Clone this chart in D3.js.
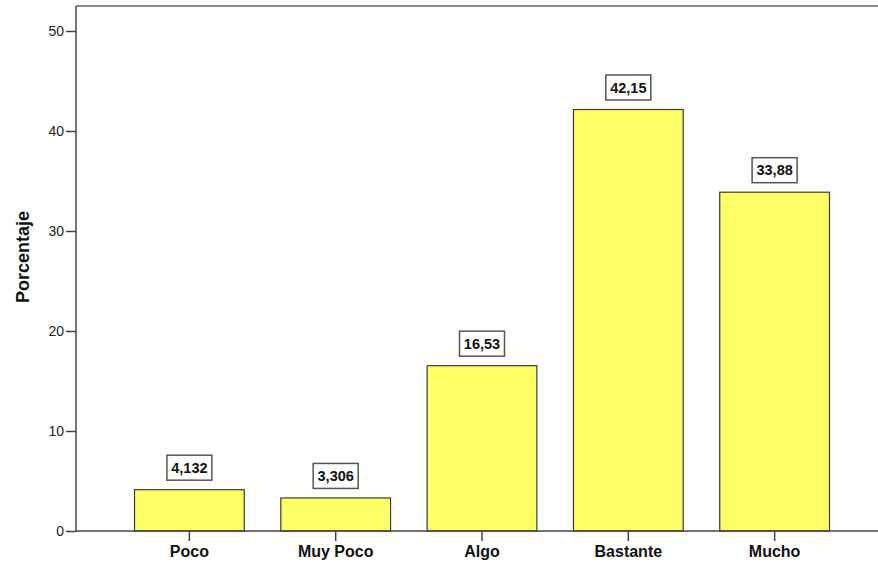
<!DOCTYPE html>
<html>
<head>
<meta charset="utf-8">
<script src="https://cdn.jsdelivr.net/npm/d3@7"></script>
<style>
  html, body { margin: 0; padding: 0; background: #fff; }
  svg { display: block; font-family: Arial, "Liberation Sans", sans-serif; }
</style>
</head>
<body>
<svg id="chart" width="878" height="564"></svg>
<script>
// Response categories and their percentages
const categories = ["Poco", "Muy Poco", "Algo", "Bastante", "Mucho"];
const percentages = [4.132, 3.306, 16.53, 42.15, 33.88];
const valueLabels = ["4,132", "3,306", "16,53", "42,15", "33,88"];
const yTicks = [0, 10, 20, 30, 40, 50];
const yTitle = "Porcentaje";

const svg = d3.select("#chart");
const plotLeft = 76, plotRight = 888, plotTop = 6, plotBottom = 531;

const x = d3.scaleBand()
  .domain(categories)
  .range([plotLeft, plotRight])
  .paddingInner(0.25)
  .paddingOuter(0.4);

const y = d3.scaleLinear()
  .domain([0, 52.5])
  .range([plotBottom, plotTop]);

// Top frame line
svg.append("line")
  .attr("x1", plotLeft).attr("x2", 878)
  .attr("y1", plotTop).attr("y2", plotTop)
  .attr("stroke", "#8a8a8a").attr("stroke-width", 2);

// Bars
svg.append("g").selectAll("rect")
  .data(categories)
  .join("rect")
  .attr("x", d => x(d))
  .attr("y", (d, i) => y(percentages[i]))
  .attr("width", x.bandwidth())
  .attr("height", (d, i) => y(0) - y(percentages[i]))
  .attr("fill", "#ffff66")
  .attr("stroke", "#3a3a3a")
  .attr("stroke-width", 1.2);

// Y axis
const yAxis = svg.append("g")
  .attr("transform", `translate(${plotLeft},0)`)
  .call(d3.axisLeft(y).tickValues(yTicks).tickSize(10).tickPadding(2).tickFormat(d3.format("d")));
yAxis.select(".domain").attr("stroke", "#444").attr("stroke-width", 1.5)
  .attr("d", `M0,${plotTop}V${plotBottom}`);
yAxis.selectAll(".tick line").attr("stroke", "#444").attr("stroke-width", 1.5);
yAxis.selectAll(".tick text")
  .attr("font-size", 14).attr("fill", "#222")
  .attr("font-family", "Arial, 'Liberation Sans', sans-serif");

// X axis
const xAxis = svg.append("g")
  .attr("transform", `translate(0,${plotBottom})`)
  .call(d3.axisBottom(x).tickSize(10).tickPadding(5));
xAxis.select(".domain").attr("stroke", "#444").attr("stroke-width", 1.5)
  .attr("d", `M${plotLeft},0H878`);
xAxis.selectAll(".tick line").attr("stroke", "#444").attr("stroke-width", 1.5);
xAxis.selectAll(".tick text")
  .attr("font-size", 16).attr("font-weight", "bold").attr("fill", "#111")
  .attr("font-family", "Arial, 'Liberation Sans', sans-serif");

// Y axis title
svg.append("text")
  .attr("transform", "translate(29,257) rotate(-90)")
  .attr("text-anchor", "middle")
  .attr("font-size", 18)
  .attr("font-weight", "bold")
  .attr("fill", "#111")
  .text(yTitle);

// Boxed value labels above each bar
const labels = svg.append("g").selectAll("g")
  .data(categories)
  .join("g")
  .attr("transform", (d, i) => `translate(${x(d) + x.bandwidth() / 2},${y(percentages[i]) - 22})`);
labels.append("rect")
  .attr("x", -22.5).attr("y", -12.5)
  .attr("width", 45).attr("height", 25)
  .attr("fill", "#fff")
  .attr("stroke", "#555")
  .attr("stroke-width", 1.5);
labels.append("text")
  .attr("text-anchor", "middle")
  .attr("dy", "0.36em")
  .attr("font-size", 14.5)
  .attr("font-weight", "bold")
  .attr("fill", "#111")
  .text((d, i) => valueLabels[i]);
</script>
</body>
</html>
